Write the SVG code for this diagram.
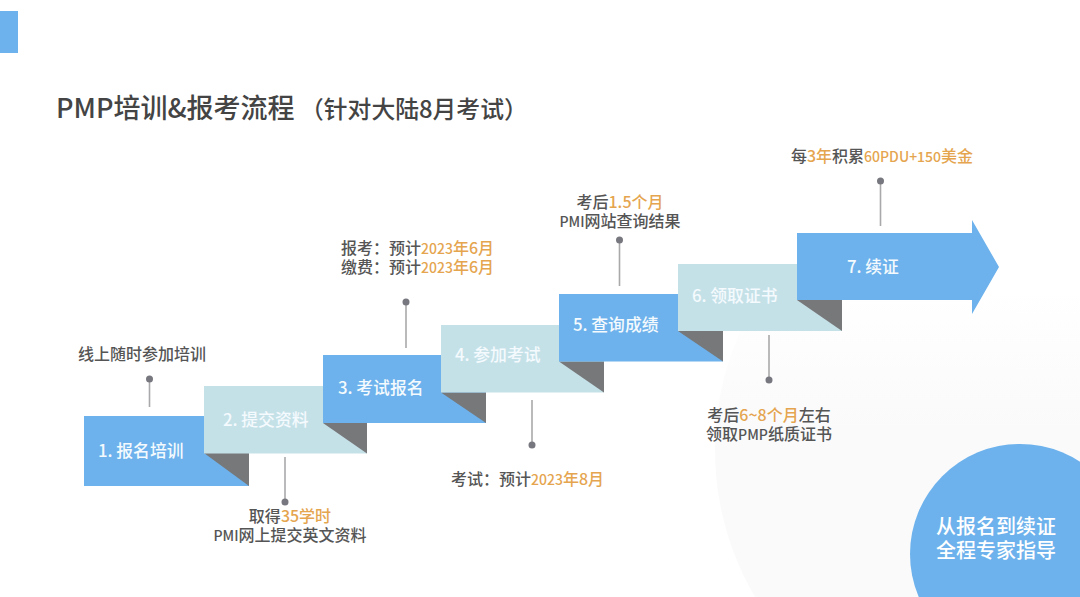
<svg xmlns="http://www.w3.org/2000/svg" width="1080" height="597" viewBox="0 0 1080 597">
<defs><linearGradient id="fade" gradientUnits="userSpaceOnUse" x1="0" y1="290" x2="0" y2="430"><stop offset="0" stop-color="#fafafb" stop-opacity="0"/><stop offset="1" stop-color="#fafafb"/></linearGradient></defs>
<style>
text{font-family:"Noto Sans CJK SC","Liberation Sans",sans-serif}
.blue{fill:#6db2ec}.pale{fill:#c5e1e8}.tri{fill:#77787a}
.step{fill:#f4fafd;font-size:16.800px;font-weight:500}
.lab{fill:#555;font-size:16px;font-weight:500}
.m{text-anchor:middle}
.o{fill:#e5a54f}
.n{font-size:14px}
.ln{stroke:#a9a9ab;stroke-width:1.6;fill:none}
.dot{fill:#77777f}
</style>
<rect width="1080" height="597" fill="#fff"/>
<circle cx="1005" cy="450" r="290" fill="url(#fade)"/>
<g id="accent"><rect x="0" y="11" width="18" height="42" class="blue"/></g>
<g id="title">
<text x="56" y="118" font-size="27" fill="#444" font-weight="500">PMP培训&amp;报考流程</text>
<text x="300" y="118" font-size="23.800" fill="#444" font-weight="500">（针对大陆8月考试）</text>
</g>
<g id="connectors">
<line class="ln" x1="149.500" y1="379" x2="149.500" y2="407"/><circle class="dot" cx="149.500" cy="379" r="3.500"/>
<line class="ln" x1="285" y1="457" x2="285" y2="502"/><circle class="dot" cx="285" cy="502" r="3.500"/>
<line class="ln" x1="406" y1="302" x2="406" y2="348"/><circle class="dot" cx="406" cy="302" r="3.500"/>
<line class="ln" x1="532" y1="400" x2="532" y2="445"/><circle class="dot" cx="532" cy="445" r="3.500"/>
<line class="ln" x1="619.500" y1="240" x2="619.500" y2="286"/><circle class="dot" cx="619.500" cy="240" r="3.500"/>
<line class="ln" x1="769" y1="335" x2="769" y2="380"/><circle class="dot" cx="769" cy="380" r="3.500"/>
<line class="ln" x1="880.500" y1="181" x2="880.500" y2="226"/><circle class="dot" cx="880.500" cy="181" r="3.500"/>
</g>
<g id="step1"><rect x="84" y="416" width="165" height="70" class="blue"/><text x="98" y="457" class="step">1. 报名培训</text></g>
<g id="step2"><polygon points="204,453 249,453 249,486" class="tri"/><rect x="204" y="386" width="163" height="67.500" class="pale"/><text x="223" y="426" class="step">2. 提交资料</text></g>
<g id="step3"><polygon points="323,423 367,423 367,453.500" class="tri"/><rect x="323" y="355" width="163" height="68" class="blue"/><text x="338" y="394" class="step">3. 考试报名</text></g>
<g id="step4"><polygon points="441,392.500 486,392.500 486,423" class="tri"/><rect x="441" y="325" width="163" height="67.500" class="pale"/><text x="455" y="361" class="step">4. 参加考试</text></g>
<g id="step5"><polygon points="559,361.500 604,361.500 604,392.500" class="tri"/><rect x="559" y="294" width="164" height="67.500" class="blue"/><text x="573" y="331" class="step">5. 查询成绩</text></g>
<g id="step6"><polygon points="678,331 723,331 723,361.500" class="tri"/><rect x="678" y="264" width="164" height="67" class="pale"/><text x="692" y="302" class="step">6. 领取证书</text></g>
<g id="step7"><polygon points="797,300 842,300 842,331" class="tri"/><polygon points="797,233 972,233 972,220 999,267 972,314 972,300 797,300" class="blue"/><text x="847" y="273" class="step">7. 续证</text></g>
<g id="note1"><text x="142" y="360" class="lab m">线上随时参加培训</text></g>
<g id="note2"><text x="290" y="522" class="lab m">取得<tspan class="o">35学时</tspan></text><text x="290" y="541" class="lab m"><tspan class="n">PMI</tspan>网上提交英文资料</text></g>
<g id="note3"><text x="341" y="254" class="lab">报考：预计<tspan class="o"><tspan class="n">2023</tspan>年6月</tspan></text><text x="341" y="273" class="lab">缴费：预计<tspan class="o"><tspan class="n">2023</tspan>年6月</tspan></text></g>
<g id="note4"><text x="451" y="485" class="lab">考试：预计<tspan class="o"><tspan class="n">2023</tspan>年8月</tspan></text></g>
<g id="note5"><text x="620" y="208" class="lab m">考后<tspan class="o">1.5个月</tspan></text><text x="620" y="227" class="lab m"><tspan class="n">PMI</tspan>网站查询结果</text></g>
<g id="note6"><text x="769" y="421" class="lab m">考后<tspan class="o">6~8个月</tspan>左右</text><text x="769" y="440" class="lab m">领取<tspan class="n">PMP</tspan>纸质证书</text></g>
<g id="note7"><text x="882" y="162" class="lab m">每<tspan class="o">3年</tspan>积累<tspan class="o"><tspan class="n">60PDU+150</tspan>美金</tspan></text></g>
<g id="badge"><circle cx="1020" cy="554" r="110" class="blue"/>
<text x="996" y="534" font-size="20" fill="#fff" text-anchor="middle" font-weight="500">从报名到续证</text>
<text x="996" y="558" font-size="20" fill="#fff" text-anchor="middle" font-weight="500">全程专家指导</text></g>
</svg>
